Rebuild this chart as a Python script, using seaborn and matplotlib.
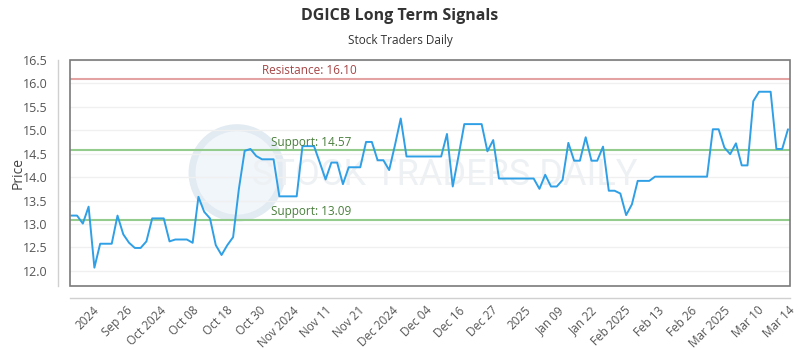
import numpy as np
import pandas as pd
from matplotlib import pyplot as plt
from matplotlib.patches import Rectangle, Ellipse
import seaborn as sns

# closing prices, one per trading session
prices = [
    13.18, 13.18, 13.01, 13.37, 12.07, 12.58, 12.58, 12.58, 13.18, 12.78,
    12.60, 12.49, 12.49, 12.63, 13.12, 13.12, 13.12, 12.63, 12.67, 12.67,
    12.67, 12.60, 13.58, 13.26, 13.12, 12.55, 12.34, 12.55, 12.72, 13.75,
    14.56, 14.60, 14.45, 14.38, 14.38, 14.38, 13.59, 13.59, 13.59, 13.59,
    14.66, 14.66, 14.66, 14.31, 13.95, 14.31, 14.31, 13.85, 14.21, 14.21,
    14.21, 14.75, 14.75, 14.36, 14.36, 14.15, 14.68, 15.25, 14.44, 14.44,
    14.44, 14.44, 14.44, 14.44, 14.44, 14.92, 13.80, 14.45, 15.13, 15.13,
    15.13, 15.13, 14.55, 14.79, 13.97, 13.97, 13.97, 13.97, 13.97, 13.97,
    13.97, 13.75, 14.05, 13.80, 13.80, 13.94, 14.73, 14.35, 14.35, 14.85,
    14.35, 14.35, 14.65, 13.71, 13.71, 13.65, 13.19, 13.42, 13.92, 13.92,
    13.92, 14.01, 14.01, 14.01, 14.01, 14.01, 14.01, 14.01, 14.01, 14.01,
    14.01, 15.02, 15.02, 14.63, 14.49, 14.72, 14.25, 14.25, 15.62, 15.82,
    15.82, 15.82, 14.60, 14.60, 15.02,
]

tick_labels = ['2024', 'Sep 26', 'Oct 2024', 'Oct 08', 'Oct 18', 'Oct 30',
               'Nov 2024', 'Nov 11', 'Nov 21', 'Dec 2024', 'Dec 04', 'Dec 16',
               'Dec 27', '2025', 'Jan 09', 'Jan 22', 'Feb 2025', 'Feb 13',
               'Feb 26', 'Mar 2025', 'Mar 10', 'Mar 14']

resistance = 16.10
supports = [14.57, 13.09]

df = pd.DataFrame({'day': np.arange(len(prices)), 'price': prices})

sns.set_style('white')
plt.rcParams['font.family'] = ['Open Sans', 'DejaVu Sans']

fig = plt.figure(figsize=(8, 3.5), dpi=100)
ax = fig.add_axes([0.0875, 0.183, 0.9, 0.646])

# faint watermark (logo circle + name)
ax.add_patch(Ellipse((0.232, 0.50), 0.125, 0.40, transform=ax.transAxes,
                     facecolor='#f1f6fb', edgecolor='#e2eaf2', linewidth=5, zorder=0))
ax.text(0.52, 0.49, 'STOCK TRADERS DAILY', transform=ax.transAxes, fontsize=26,
        color='#eef1f4', ha='center', va='center', zorder=0, family='Roboto')

sns.lineplot(data=df, x='day', y='price', color='#2f9fe6', linewidth=1.4, ax=ax, zorder=3)

ax.axhline(resistance, color='#e3a3a3', linewidth=1.5, zorder=2)
for s in supports:
    ax.axhline(s, color='#93cc8c', linewidth=1.5, zorder=2)

ax.text(33, resistance + 0.04, 'Resistance: %.2f' % resistance, color='#a64545',
        fontsize=8.5, va='bottom', ha='left')
for s in supports:
    ax.text(34.5, s + 0.04, 'Support: %.2f' % s, color='#4a7f3c',
            fontsize=8.5, va='bottom', ha='left')

# offset spines first: moving a spine rebuilds the ticks
sns.despine(ax=ax, offset=9)
for side in ['left', 'bottom']:
    ax.spines[side].set_color('#d0d0d0')
    ax.spines[side].set_linewidth(1)
ax.add_patch(Rectangle((0, 0), 1, 1, transform=ax.transAxes, fill=False,
                       edgecolor='#7a7a7a', linewidth=1.2, clip_on=False, zorder=5))

n = len(prices)
ax.set_xlim(-0.22, n - 1 + 0.35)
ax.set_ylim(11.68, 16.5)
ax.set_yticks(np.arange(12.0, 16.51, 0.5))
ax.yaxis.set_major_formatter(plt.FormatStrFormatter('%.1f'))
ax.grid(axis='y', color='#f0f0f0', linewidth=1)
ax.grid(axis='x', visible=False)

tick_pos = list(np.linspace(3.75, 118.6, len(tick_labels) - 1)) + [n - 1]
ax.set_xticks(tick_pos)
ax.set_xticklabels(tick_labels)
ax.tick_params(axis='x', length=0, pad=4, labelsize=8.5, colors='#555555')
ax.tick_params(axis='y', length=0, pad=7, labelsize=9, colors='#555555')
for lab in ax.get_xticklabels():
    lab.set_rotation(45)
    lab.set_ha('right')
    lab.set_va('top')
    lab.set_rotation_mode('anchor')

ax.set_xlabel('')
ax.set_ylabel('Price', fontsize=10, color='#444444')
ax.yaxis.set_label_coords(-0.062, 0.5)

fig.text(0.5, 0.955, 'DGICB Long Term Signals', ha='center', va='center',
         fontsize=11.5, fontweight='bold', color='#333333')
fig.text(0.5, 0.885, 'Stock Traders Daily', ha='center', va='center',
         fontsize=8.5, color='#333333')

fig.savefig('out.png', dpi=100)
